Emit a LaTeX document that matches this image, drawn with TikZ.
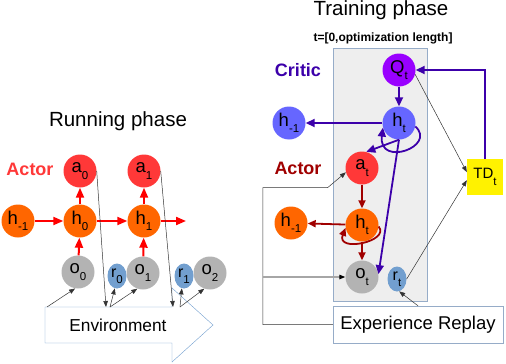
\documentclass[tikz,border=0pt]{standalone}
\usepackage{fontspec}
\setmainfont{Liberation Sans}
\usetikzlibrary{arrows.meta,shapes.geometric}

\definecolor{actred}{RGB}{255,56,56}
\definecolor{hidorange}{RGB}{255,102,0}
\definecolor{obsgray}{RGB}{179,179,179}
\definecolor{rewblue}{RGB}{114,159,207}
\definecolor{qpurple}{RGB}{153,0,255}
\definecolor{critblue}{RGB}{102,102,255}
\definecolor{critline}{RGB}{60,0,170}
\definecolor{darkact}{RGB}{160,0,0}
\definecolor{boxgray}{RGB}{238,238,238}
\definecolor{boxedge}{RGB}{150,172,200}

\newcommand{\lbl}[2]{#1\raisebox{-6.5pt}{\fontsize{11.5}{11.5}\selectfont #2}}

\begin{document}
\begin{tikzpicture}[x=1pt,y=-1pt,
  unit/.style={circle,inner sep=0pt,minimum size=33pt,font=\fontsize{18.5}{18.5}\selectfont},
  rew/.style={ellipse,fill=rewblue,inner sep=0pt,minimum width=19pt,minimum height=25pt,font=\fontsize{16}{16}\selectfont},
  redarr/.style={draw=red,line width=2pt,-{Triangle[length=10pt,width=8pt]}},
  darkarr/.style={draw=darkact,line width=1.8pt,-{Triangle[length=8pt,width=7pt]}},
  critarr/.style={draw=critline,line width=1.8pt,-{Triangle[length=9pt,width=8pt]}},
  thinarr/.style={draw=black!80,line width=0.5pt,-{Triangle[length=6pt,width=4.5pt]}},
  title/.style={font=\fontsize{20.5}{20.5}\selectfont},
  role/.style={font=\fontsize{18}{18}\selectfont\bfseries}]
\useasboundingbox (0,0) rectangle (506,364);

%% running phase
\node[title] at (118,121) (runtitle) {Running phase};
\node[role,text=actred] at (30,169) (actorrun) {Actor};
\node[unit,fill=actred] at (80,171) (a0) {\lbl{a}{0}};
\node[unit,fill=actred] at (144,171) (a1) {\lbl{a}{1}};
\node[unit,fill=hidorange] at (18,221) (hm) {\lbl{h}{-1}};
\node[unit,fill=hidorange] at (80,221) (h0) {\lbl{h}{0}};
\node[unit,fill=hidorange] at (144,221) (h1) {\lbl{h}{1}};
\coordinate (hnext) at (186,221);
\node[unit,fill=obsgray] at (78,272) (o0) {\lbl{o}{0}};
\node[unit,fill=obsgray] at (143,273) (o1) {\lbl{o}{1}};
\node[unit,fill=obsgray] at (210,273) (o2) {\lbl{o}{2}};
\node[rew] at (117,276) (r0) {\lbl{r}{0}};
\node[rew] at (184,276) (r1) {\lbl{r}{1}};

% environment arrow
\draw[draw=rewblue,fill=white] (45,307) -- (172,307) -- (172,288) -- (213,325)
  -- (172,362) -- (172,343) -- (45,343) -- cycle;
\node[font=\fontsize{17.3}{17.3}\selectfont] at (118,325) (env) {Environment};
\coordinate (envin) at (47,307);
\coordinate (act0) at (106,307);
\coordinate (obs0) at (110,307);
\coordinate (act1) at (173,307);
\coordinate (obs1) at (180,307);

\draw[redarr] (hm) -- (h0);
\draw[redarr] (h0) -- (h1);
\draw[redarr] (h1) -- (hnext);
\draw[redarr] (h0) -- (a0);
\draw[redarr] (h1) -- (a1);
\draw[redarr] (o0) -- (h0);
\draw[redarr] (o1) -- (h1);

\draw[thinarr] (envin) -- (o0.-100);
\draw[thinarr] (a0.east) -- (act0);
\draw[thinarr] (obs0) -- (r0.-100);
\draw[thinarr] (obs0) -- (o1.-110);
\draw[thinarr] (a1.east) -- (act1);
\draw[thinarr] (obs1) -- (r1.-100);
\draw[thinarr] (obs1) -- (o2.-110);

%% training phase
\node[title] at (381,10) (traintitle) {Training phase};
\node[font=\fontsize{12}{12}\selectfont\bfseries] at (383,38) (span) {t=[0,optimization length]};
\node[draw=boxedge,fill=boxgray,minimum width=94pt,minimum height=253pt] at (380,174.5) (seq) {};

\node[role,text=critline] at (298,70) (criticlbl) {Critic};
\node[unit,fill=qpurple] at (399,70) (q) {\lbl{Q}{t}};
\node[unit,fill=critblue] at (399,123) (hc) {\lbl{h}{t}};
\node[unit,fill=critblue] at (289,123) (hcm) {\lbl{h}{-1}};
\node[role,text=darkact] at (298,168) (actortrain) {Actor};
\node[unit,fill=actred] at (362,168) (at) {\lbl{a}{t}};
\node[unit,fill=hidorange] at (362,225) (ht) {\lbl{h}{t}};
\node[unit,fill=hidorange] at (291,223) (htm) {\lbl{h}{-1}};
\node[unit,fill=obsgray] at (362,277) (ot) {\lbl{o}{t}};
\node[rew] at (397,279) (rt) {\lbl{r}{t}};
\node[fill=yellow,minimum size=36pt,inner sep=0pt,font=\fontsize{15}{15}\selectfont] at (485,177) (td) {\lbl{TD}{t}};
\node[draw=boxedge,fill=white,minimum width=170pt,minimum height=37pt,font=\fontsize{18.5}{18.5}\selectfont] at (418,324.5) (er) {Experience Replay};
\coordinate (tap) at (263,277);

% critic
\draw[critarr] (td.north) |- (q.east);
\draw[critarr] (q) -- (hc);
\draw[critarr] (hc) -- (hcm);
\draw[critarr] (hc.-12) .. controls +(22,20) and +(-5,40) .. (hc.196);
\draw[critarr] (hc.south) -- (at.75);
\draw[critarr] (hc.south) -- (ot.10);

% actor
\draw[darkarr] (at) -- (ht);
\draw[darkarr] (ht) -- (ot);
\draw[darkarr] (ht) -- (htm);
\draw[darkarr] (ht.-5) .. controls +(12,15) and +(-10,25) .. (ht.190);

% replay and TD
\draw[thinarr] (q.-15) -- (td.165);
\draw[thinarr] (rt.east) -- (td.190);
\draw[thinarr] (er.north) -- (rt.-80);
\draw[thinarr] (er.west) -| ++(-70,-137) -- ++(65,0) -- (at.195);
\draw[draw=black!35,line width=1.2pt,-{Triangle[length=6pt,width=4.5pt,color=black]}] (tap) -- (ot.west);
\end{tikzpicture}
\end{document}
